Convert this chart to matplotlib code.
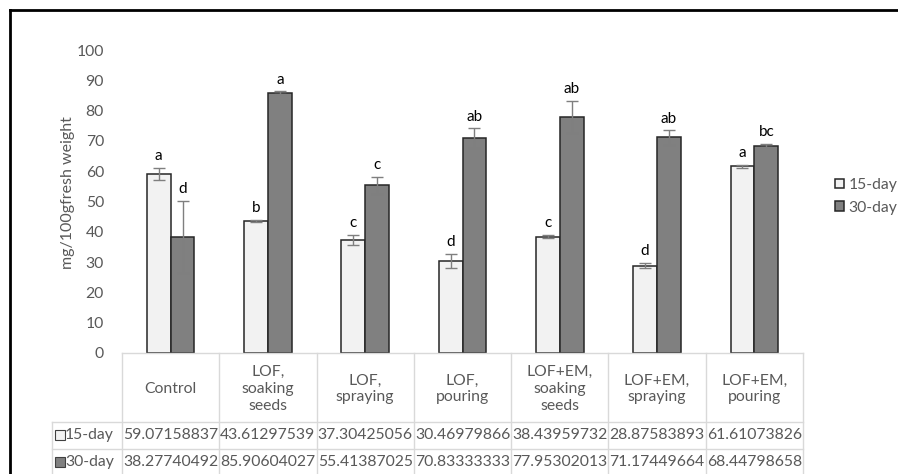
import numpy as np
import matplotlib
matplotlib.use("Agg")
from matplotlib import pyplot as plt
from matplotlib.lines import Line2D

plt.rcParams['font.family'] = ['Lato', 'DejaVu Sans']

# Дані з діаграми
categories = ["Control", "LOF,\nsoaking\nseeds", "LOF,\nspraying", "LOF,\npouring",
              "LOF+EM,\nsoaking\nseeds", "LOF+EM,\nspraying", "LOF+EM,\npouring"]
series_names = ["15-day", "30-day"]
day15 = [59.07158837, 43.61297539, 37.30425056, 30.46979866, 38.43959732, 28.87583893, 61.61073826]
day30 = [38.27740492, 85.90604027, 55.41387025, 70.83333333, 77.95302013, 71.17449664, 68.44798658]
err15 = [2.1, 0.3, 1.8, 2.3, 0.5, 0.95, 0.6]
err30 = [11.9, 0.5, 2.8, 3.3, 5.3, 2.4, 0.6]
letters15 = ["a", "b", "c", "d", "c", "d", "a"]
letters30 = ["d", "a", "c", "ab", "ab", "ab", "bc"]
table_text = {
    "15-day": ["59.07158837", "43.61297539", "37.30425056", "30.46979866", "38.43959732", "28.87583893", "61.61073826"],
    "30-day": ["38.27740492", "85.90604027", "55.41387025", "70.83333333", "77.95302013", "71.17449664", "68.44798658"],
}

W, H = 898, 474
fig = plt.figure(figsize=(W / 100, H / 100), dpi=100)
ax_left, ax_right, ax_top, ax_bottom = 122, 803, 50, 353
ax = fig.add_axes([ax_left / W, 1 - ax_bottom / H, (ax_right - ax_left) / W, (ax_bottom - ax_top) / H])

colors = ['#F2F2F2', '#808080']
x = np.arange(len(categories))
w = 0.245
ekw = dict(ecolor='#7F7F7F', elinewidth=1, capsize=4, capthick=1)
b1 = ax.bar(x - w / 2, day15, w, color=colors[0], edgecolor='#262626', linewidth=1.1,
            yerr=err15, error_kw=ekw, label=series_names[0])
b2 = ax.bar(x + w / 2, day30, w, color=colors[1], edgecolor='#262626', linewidth=1.1,
            yerr=err30, error_kw=ekw, label=series_names[1])

# Літери значущості
for i in range(len(categories)):
    ax.text(x[i] - w / 2, day15[i] + err15[i] + 1.5, letters15[i], ha='center', va='bottom',
            fontsize=11, color='black')
    ax.text(x[i] + w / 2, day30[i] + err30[i] + 1.5, letters30[i], ha='center', va='bottom',
            fontsize=11, color='black')

ax.set_xlim(-0.5, len(categories) - 0.5)
ax.set_ylim(0, 100)
ax.set_yticks(range(0, 101, 10))
ax.tick_params(axis='y', length=0, pad=13, labelsize=11.3, labelcolor='#595959')
ax.set_xticks([])
for s in ax.spines.values():
    s.set_visible(False)

fig.text(68 / W, 1 - 193 / H, "mg/100gfresh weight", rotation=90, ha='center', va='center',
         fontsize=11.5, color='#595959')

# Таблиця даних під віссю
col_w = (ax_right - ax_left) / len(categories)
ah = ax_bottom - ax_top


def px_x(px):
    return -0.5 + (px - ax_left) / col_w


def px_y(py):
    return -(py - ax_bottom) / ah


tr = ax.get_xaxis_transform()
grid_c = '#D9D9D9'
row_lines = [422, 449, 476]
left_px = 52
kw = dict(transform=tr, color=grid_c, lw=1, clip_on=False)
ax.add_line(Line2D([-0.5, len(categories) - 0.5], [0, 0], **kw))
for py in row_lines:
    ax.add_line(Line2D([px_x(left_px), len(categories) - 0.5], [px_y(py)] * 2, **kw))
for k in range(len(categories) + 1):
    ax.add_line(Line2D([k - 0.5] * 2, [0, px_y(476)], **kw))
ax.add_line(Line2D([px_x(left_px)] * 2, [px_y(422), px_y(476)], **kw))

for i, cat in enumerate(categories):
    ax.text(x[i], px_y(389), cat, transform=tr, ha='center', va='center', fontsize=11.3,
            color='#595959', linespacing=1.25, clip_on=False)

row_centers = [435, 462]
for r, name in enumerate(series_names):
    yc = px_y(row_centers[r])
    ax.plot([px_x(59.5)], [yc], marker='s', ms=6.5, mfc=colors[r], mec='#404040', mew=0.8,
            transform=tr, clip_on=False)
    ax.text(px_x(65), yc, name, transform=tr, ha='left', va='center', fontsize=11.3,
            color='#595959', clip_on=False)
    for i, val in enumerate(table_text[name]):
        ax.text(x[i], yc, val, transform=tr, ha='center', va='center', fontsize=11.3,
                color='#595959', clip_on=False)

# Легенда
leg = ax.legend(handles=[b1, b2], loc='upper left', bbox_to_anchor=(835 / W, 1 - 178 / H),
                bbox_transform=fig.transFigure, frameon=False, fontsize=11.3,
                handlelength=0.55, handleheight=0.55, handletextpad=0.3, labelspacing=0.55,
                borderpad=0, borderaxespad=0)
for t in leg.get_texts():
    t.set_color('#595959')

# Рамка
fig.add_artist(Line2D([10 / W, 1], [1 - 10 / H] * 2, color='black', lw=2, transform=fig.transFigure))
fig.add_artist(Line2D([10 / W] * 2, [0, 1 - 10 / H], color='black', lw=2, transform=fig.transFigure))

fig.savefig("out.png", dpi=100)
